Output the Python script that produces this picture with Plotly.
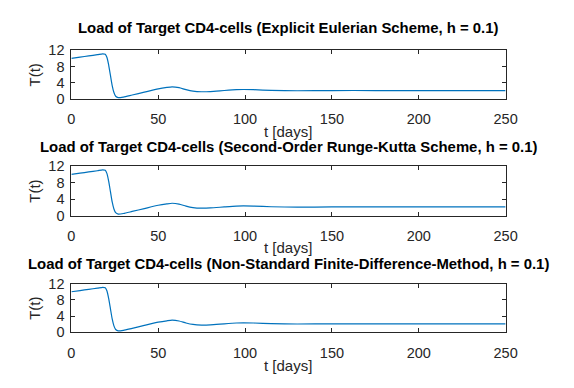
import plotly.graph_objects as go

# time points (days) and T(t) values
t_days = [0, 5, 10, 15, 18, 19.5, 20.5, 21.5, 22.5, 23.5, 24.5, 25.5, 27, 30, 35, 42, 50, 55, 58, 62, 66, 70, 75, 80, 88, 95, 99, 105, 115, 130, 150, 175, 200, 225, 250]
T_euler = [10.0, 10.3, 10.6, 10.9, 11.1, 11.0, 10.2, 8.3, 5.8, 3.3, 1.6, 0.7, 0.35, 0.5, 1.0, 1.7, 2.5, 2.85, 3.0, 2.8, 2.3, 1.95, 1.8, 1.85, 2.1, 2.3, 2.35, 2.3, 2.15, 2.05, 2.1, 2.1, 2.1, 2.1, 2.1]
T_rk2 = [10.0, 10.3, 10.6, 10.9, 11.1, 11.0, 10.2, 8.3, 5.8, 3.3, 1.6, 0.7, 0.35, 0.5, 1.0, 1.7, 2.5, 2.85, 3.0, 2.8, 2.3, 1.95, 1.8, 1.85, 2.1, 2.3, 2.35, 2.3, 2.15, 2.05, 2.1, 2.1, 2.1, 2.1, 2.1]
T_nsfd = [10.0, 10.3, 10.6, 10.9, 11.1, 11.0, 10.2, 8.3, 5.8, 3.3, 1.6, 0.7, 0.35, 0.5, 1.0, 1.7, 2.5, 2.85, 3.0, 2.8, 2.3, 1.95, 1.8, 1.85, 2.1, 2.3, 2.35, 2.3, 2.15, 2.05, 2.1, 2.1, 2.1, 2.1, 2.1]

x_ticks = [0, 50, 100, 150, 200, 250]
y_ticks = [0, 4, 8, 12]

titles = [
    "Load of Target CD4-cells (Explicit Eulerian Scheme, h = 0.1)",
    "Load of Target CD4-cells (Second-Order Runge-Kutta Scheme, h = 0.1)",
    "Load of Target CD4-cells (Non-Standard Finite-Difference-Method, h = 0.1)",
]
series = [T_euler, T_rk2, T_nsfd]

W, H = 574, 388
x_left, x_right = 69.3, 516
boxes = [(44, 95), (165, 216.5), (287.5, 338.3)]  # top, bottom in pixels
title_y = [21, 144.5, 266.5]
xlabel_y = [128.5, 250, 373]

FONT = "Liberation Sans, Arial, sans-serif"
fig = go.Figure()
layout = dict(
    autosize=True, margin=dict(l=0, r=0, t=0, b=0, pad=0),
    paper_bgcolor="white", plot_bgcolor="white", showlegend=False,
    font=dict(family=FONT, size=14, color="#262626"),
    annotations=[],
)

for i, (vals, ttl) in enumerate(zip(series, titles)):
    n = "" if i == 0 else str(i + 1)
    fig.add_trace(go.Scatter(x=t_days, y=vals, mode="lines",
                             line=dict(color="#0072BD", width=1.2, shape="spline", smoothing=0.6),
                             xaxis="x" + n, yaxis="y" + n))
    top, bot = boxes[i]
    common = dict(showline=True, mirror="ticks", linecolor="#262626", linewidth=1,
                  ticks="inside", ticklen=4, tickcolor="#262626", showgrid=False, zeroline=False,
                  tickfont=dict(family=FONT, size=14.5, color="#262626"))
    layout["xaxis" + n] = dict(domain=[x_left / W, x_right / W], range=[0, 250],
                               tickvals=x_ticks, anchor="y" + n, ticklabelstandoff=7, **common)
    layout["yaxis" + n] = dict(domain=[1 - bot / H, 1 - top / H], range=[0, 12],
                               tickvals=y_ticks, anchor="x" + n, ticklabelstandoff=3, **common)
    layout["annotations"].append(dict(text="<b>" + ttl + "</b>", x=(x_left + x_right) / 2 / W,
                                      y=1 - title_y[i] / H, xref="paper", yref="paper",
                                      showarrow=False, xanchor="center", yanchor="middle",
                                      font=dict(family=FONT, size=14.9, color="black")))
    layout["annotations"].append(dict(text="t [days]", x=(x_left + x_right) / 2 / W,
                                      y=1 - xlabel_y[i] / H, xref="paper", yref="paper",
                                      showarrow=False, xanchor="center", yanchor="middle",
                                      font=dict(family=FONT, size=15, color="#262626")))
    layout["annotations"].append(dict(text="T(t)", x=31.7 / W, y=1 - (top + bot) / 2 / H,
                                      xref="paper", yref="paper", textangle=-90,
                                      showarrow=False, xanchor="center", yanchor="middle",
                                      font=dict(family=FONT, size=15, color="#262626")))

fig.update_layout(**layout)
fig.write_html(
    "out.html",
    config={"displayModeBar": False, "responsive": True},
    default_width="100vw",
    default_height="100vh",
    post_script=("document.body.style.margin='0';document.body.style.padding='0';"
                 "document.body.style.overflow='hidden';"
                 "document.documentElement.style.overflow='hidden';"
                 "Plotly.Plots.resize(document.getElementById('{plot_id}'));"),
)
